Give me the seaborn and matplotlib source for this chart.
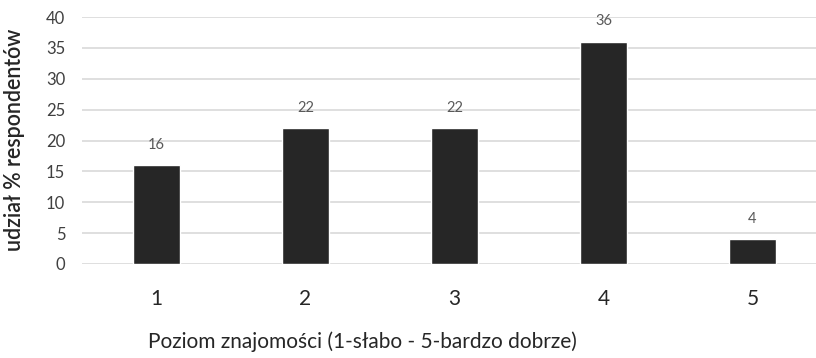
import matplotlib
matplotlib.use("Agg")
import matplotlib.pyplot as plt
import seaborn as sns
import pandas as pd

levels = ["1", "2", "3", "4", "5"]
shares = [16, 22, 22, 36, 4]
y_ticks = [0, 5, 10, 15, 20, 25, 30, 35, 40]

sns.set_theme(style="white")
plt.rcParams["font.family"] = ["Lato", "DejaVu Sans"]

df = pd.DataFrame({"level": levels, "share": shares})

fig = plt.figure(figsize=(8.16, 3.58), dpi=100)
ax = fig.add_axes([82 / 816, 94 / 358, 734 / 816, 247 / 358])

sns.barplot(data=df, x="level", y="share", color="#262626", width=0.32,
            saturation=1, ax=ax, zorder=3)

ax.set_ylim(0, 40)
ax.set_xlim(-0.5, 4.5 - 11 / 149)
ax.set_yticks(y_ticks)
ax.set_yticklabels([str(t) for t in y_ticks], fontsize=12, color="#404040")
ax.yaxis.grid(True, color="#d9d9d9", linewidth=1.2, zorder=0)
ax.xaxis.grid(False)
for s in ax.spines.values():
    s.set_visible(False)
ax.tick_params(axis="y", length=0, pad=12)
ax.tick_params(axis="x", length=0, pad=18, labelsize=15, labelcolor="#262626")

for i, v in enumerate(shares):
    ax.text(i, v + 2.2, str(v), ha="center", va="bottom", fontsize=10.5,
            color="#595959")

ax.set_xlabel("")
ax.set_ylabel("")
fig.text(148 / 816, 16 / 358, "Poziom znajomości (1-słabo - 5-bardzo dobrze)",
         ha="left", va="center", fontsize=15, color="#262626")
fig.text(15 / 816, (358 - 140) / 358, "udział % respondentów", rotation=90,
         ha="center", va="center", fontsize=15.5, color="#262626",
         fontweight="semibold")

fig.savefig("out.png", dpi=100)
